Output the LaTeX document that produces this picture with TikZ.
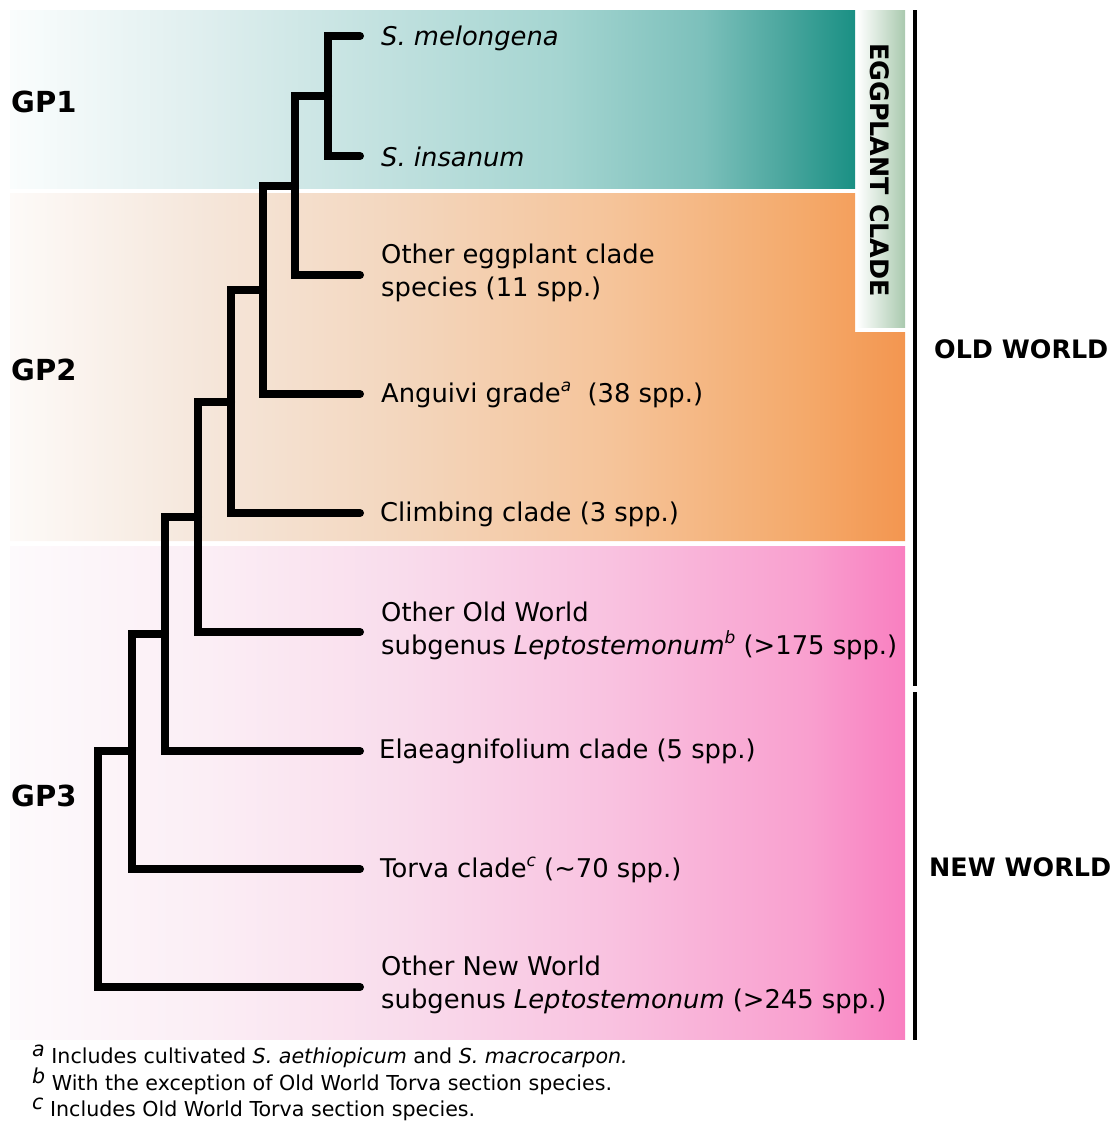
\documentclass[tikz,border=0pt]{standalone}
\usepackage{fontspec}
\setmainfont{DejaVu Sans}
\usetikzlibrary{positioning}
\definecolor{ta}{HTML}{FAFDFD}
\definecolor{tb}{HTML}{E0EFEF}
\definecolor{tc}{HTML}{BFE0DE}
\definecolor{td}{HTML}{A5D5D1}
\definecolor{te}{HTML}{7CC0BB}
\definecolor{tf}{HTML}{4EA8A0}
\definecolor{tg}{HTML}{1A9084}
\definecolor{oa}{HTML}{FDFAF8}
\definecolor{ob}{HTML}{F5E6DA}
\definecolor{oc}{HTML}{F3D6BD}
\definecolor{od}{HTML}{F5C49A}
\definecolor{oe}{HTML}{F4A96A}
\definecolor{of}{HTML}{F39650}
\definecolor{pa}{HTML}{FDFAFC}
\definecolor{pb}{HTML}{FBEEF5}
\definecolor{pc}{HTML}{F9DCEC}
\definecolor{pd}{HTML}{F9C2E0}
\definecolor{pe}{HTML}{F9A0CF}
\definecolor{pf}{HTML}{F97FC0}
\definecolor{sage}{HTML}{A9C9AE}
\pgfdeclarehorizontalshading{tealsh}{100bp}{color(0bp)=(ta); color(25bp)=(ta); color(36bp)=(tb); color(48bp)=(tc); color(57.5bp)=(td); color(66bp)=(te); color(70.5bp)=(tf); color(75bp)=(tg); color(100bp)=(tg)}
\pgfdeclarehorizontalshading{orangesh}{100bp}{color(0bp)=(oa); color(25bp)=(oa); color(36bp)=(ob); color(47bp)=(oc); color(58.5bp)=(od); color(69.5bp)=(oe); color(75bp)=(of); color(100bp)=(of)}
\pgfdeclarehorizontalshading{pinksh}{100bp}{color(0bp)=(pa); color(25bp)=(pa); color(36bp)=(pb); color(47bp)=(pc); color(58.5bp)=(pd); color(69.5bp)=(pe); color(75bp)=(pf); color(100bp)=(pf)}
\newcommand{\supit}[1]{\raisebox{0.42em}{\fontsize{17}{17}\selectfont\itshape #1}}
\newcommand{\fnmark}[1]{\raisebox{0.3em}{\itshape #1}}
\tikzset{
  branch/.style={line width=8pt, line cap=round, line join=miter},
  leaflab/.style={anchor=base west, inner sep=0pt, font=\fontsize{25.8}{33}\selectfont, align=left},
  gplab/.style={anchor=base west, inner sep=0pt, font=\fontsize{29}{33}\selectfont\bfseries},
  worldlab/.style={anchor=base west, inner sep=0pt, font=\fontsize{25.4}{30}\selectfont\bfseries},
  fnote/.style={anchor=base west, inner sep=0pt, font=\fontsize{20.6}{24}\selectfont},
  worldbar/.style={line width=4pt}
}
\begin{document}
\begin{tikzpicture}[x=1pt,y=-1pt]
\useasboundingbox (0,0) rectangle (1118,1122);
% background bands
\shade[shading=tealsh] (10,10) rectangle (855,188);
\shade[shading=orangesh] (10,193) -- (855,193) -- (855,332) -- (905,332) -- (905,541) -- (10,541) -- cycle;
\shade[shading=pinksh] (10,546) rectangle (905,1039);
\shade[left color=white, right color=sage] (857,10) rectangle (905,327);
\node[rotate=-90, inner sep=0pt, font=\fontsize{25.4}{30}\selectfont\bfseries] (egg) at (880,170) {EGGPLANT CLADE};
% world bars
\coordinate (owtop) at (915,10);
\coordinate (owbot) at (915,686);
\coordinate (nwtop) at (915,692);
\coordinate (nwbot) at (915,1040);
\draw[worldbar] (owtop) -- (owbot);
\draw[worldbar] (nwtop) -- (nwbot);
\node[worldlab] (ow) at (934,358) {OLD WORLD};
\node[worldlab] (nw) at (929,876) {NEW WORLD};
% group labels
\node[gplab] (gp1) at (11,112) {GP1};
\node[gplab] (gp2) at (11,380) {GP2};
\node[gplab] (gp3) at (11,806) {GP3};
% leaves
\coordinate (lmel) at (360,36);
\coordinate (lins) at (360,156);
\coordinate (loth) at (360,275);
\coordinate (lang) at (360,394);
\coordinate (lcli) at (360,513);
\coordinate (loow) at (360,632);
\coordinate (lela) at (360,751);
\coordinate (ltor) at (360,869);
\coordinate (lonw) at (360,987);
% internal nodes
\coordinate (n1) at (328,96);
\coordinate (n2) at (295,185.5);
\coordinate (n3) at (263,290);
\coordinate (n4) at (231,402);
\coordinate (n5) at (198,517);
\coordinate (n6) at (165,634);
\coordinate (n7) at (132,751);
\coordinate (n8) at (98,869);
\draw[branch] (n1) |- (lmel);
\draw[branch] (n1) |- (lins);
\draw[branch] (n2) |- (n1);
\draw[branch] (n2) |- (loth);
\draw[branch] (n3) |- (n2);
\draw[branch] (n3) |- (lang);
\draw[branch] (n4) |- (n3);
\draw[branch] (n4) |- (lcli);
\draw[branch] (n5) |- (n4);
\draw[branch] (n5) |- (loow);
\draw[branch] (n6) |- (n5);
\draw[branch] (n6) |- (lela);
\draw[branch] (n7) |- (n6);
\draw[branch] (n7) |- (ltor);
\draw[branch] (n8) |- (n7);
\draw[branch] (n8) |- (lonw);
% labels
\node[leaflab] (tmel) at (381,45.5) {\textit{S. melongena}};
\node[leaflab] (tins) at (381,166) {\textit{S. insanum}};
\node[leaflab] (toth) at (381,296.5) {Other eggplant clade\\species (11 spp.)};
\node[leaflab] (tang) at (381,402.5) {Anguivi grade\supit{a}\ \ (38 spp.)};
\node[leaflab] (tcli) at (380,521.5) {Climbing clade (3 spp.)};
\node[leaflab] (toow) at (381,654.5) {Other Old World\\subgenus \textit{Leptostemonum}\supit{b} (>175 spp.)};
\node[leaflab] (tela) at (379,758.5) {Elaeagnifolium clade (5 spp.)};
\node[leaflab] (ttor) at (380,877.5) {Torva clade\supit{c} (\string~70 spp.)};
\node[leaflab] (tonw) at (381,1008.5) {Other New World\\subgenus \textit{Leptostemonum} (>245 spp.)};
% footnotes
\node[fnote] (fa) at (32,1063) {\fnmark{a} Includes cultivated \textit{S. aethiopicum} and \textit{S. macrocarpon.}};
\node[fnote] (fb) at (32,1090) {\fnmark{b} With the exception of Old World Torva section species.};
\node[fnote] (fc) at (32,1116) {\fnmark{c} Includes Old World Torva section species.};
\end{tikzpicture}
\end{document}
